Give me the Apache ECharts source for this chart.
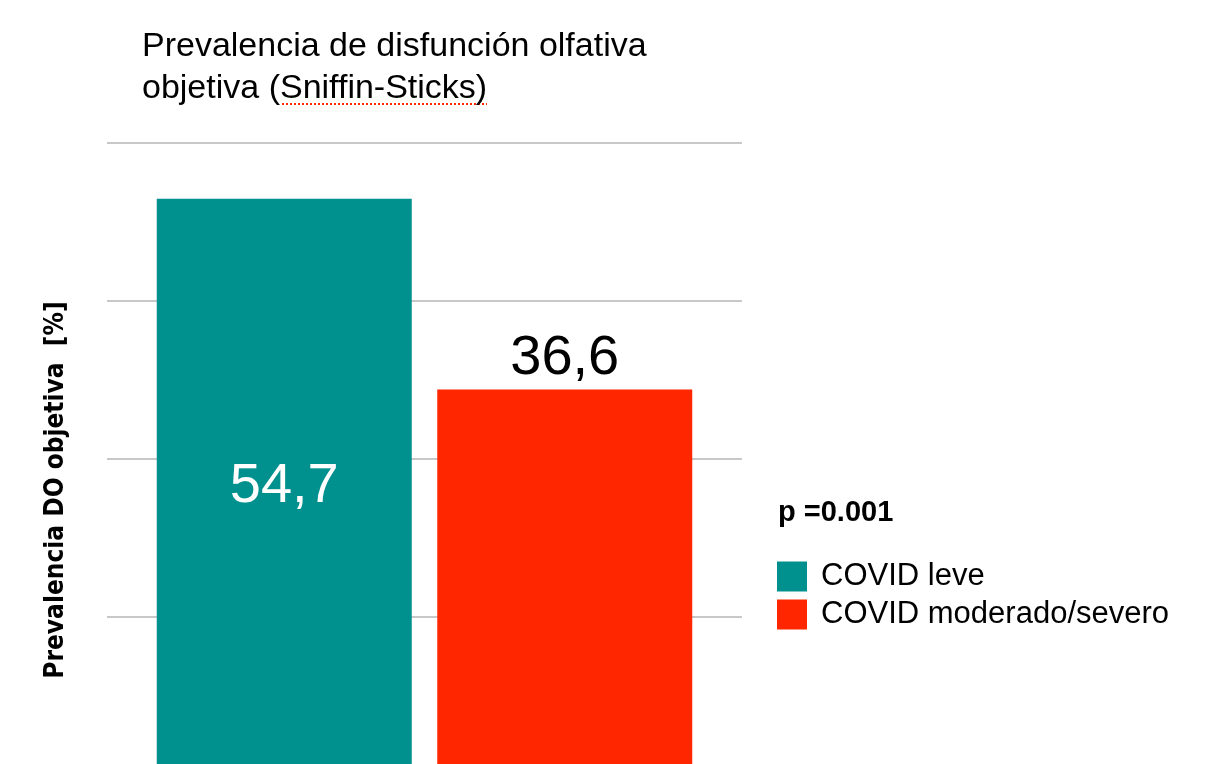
<!DOCTYPE html>
<html>
<head>
<meta charset="utf-8">
<script src="https://cdn.jsdelivr.net/npm/echarts@6/dist/echarts.min.js"></script>
<style>
  html, body { margin: 0; padding: 0; background: #fff; }
  #chart { width: 1214px; height: 764px; }
</style>
</head>
<body>
<div id="chart"></div>
<script>
// data
const categories = ['Sniffin-Sticks'];
const seriesNames = ['COVID leve', 'COVID moderado/severo'];
const seriesValues = [[54.7], [36.6]];
const colors = ['#00918f', '#ff2600'];
const pValue = 'p =0.001';
const yName = 'Prevalencia DO objetiva  [%]';

const chart = echarts.init(document.getElementById('chart'));

const fmt = function (p) { return String(p.value).replace('.', ','); };

const series = seriesNames.map(function (name, i) {
    return {
        name: name,
        type: 'bar',
        data: seriesValues[i],
        barWidth: 255,
        barGap: '10%',
        itemStyle: { color: colors[i] },
        label: {
            show: true,
            position: i === 0 ? 'inside' : 'top',
            formatter: fmt,
            color: i === 0 ? '#fff' : '#000',
            fontSize: 56,
            fontFamily: 'Liberation Sans',
            distance: 3
        }
    };
});

chart.setOption({
    animation: false,
    backgroundColor: '#fff',
    title: [{
        text: 'Prevalencia de disfunción olfativa\nobjetiva (Sniffin-Sticks)',
        left: 137,
        top: 21,
        textStyle: { fontSize: 34, fontWeight: 'normal', color: '#000', fontFamily: 'Liberation Sans', lineHeight: 42 }
    }, {
        text: pValue,
        left: 773,
        top: 493,
        textStyle: { fontSize: 29, fontWeight: 'bold', color: '#000', fontFamily: 'Liberation Sans' }
    }],
    legend: {
        orient: 'vertical',
        left: 772,
        top: 556,
        itemWidth: 30,
        itemHeight: 30,
        itemGap: 7,
        icon: 'rect',
        textStyle: { fontSize: 31, color: '#000', fontFamily: 'Liberation Sans', padding: [0, 0, 0, 9] }
    },
    // zero line sits just below the visible area
    grid: { left: 107, right: 472, top: 143, height: 632, outerBoundsMode: 'none', containLabel: false },
    xAxis: {
        type: 'category',
        data: categories,
        axisLine: { show: false },
        axisTick: { show: false },
        axisLabel: { show: false }
    },
    yAxis: {
        type: 'value',
        min: 0,
        max: 60,
        interval: 15,
        axisLabel: { show: false },
        axisLine: { show: false },
        axisTick: { show: false },
        splitLine: { lineStyle: { color: '#c8c8c8', width: 2 } }
    },
    graphic: [{
        type: 'text',
        x: 56,
        y: 490,
        rotation: Math.PI / 2,
        style: {
            text: yName,
            fontSize: 26,
            fontWeight: 'bold',
            fontFamily: 'DejaVu Sans Condensed',
            fill: '#000',
            align: 'center',
            verticalAlign: 'middle'
        }
    }, {
        // spell-check squiggle under "Sniffin-Sticks"
        type: 'line',
        shape: { x1: 282, y1: 104, x2: 487, y2: 104 },
        style: { stroke: '#ff2600', lineWidth: 2, lineDash: [2, 2] }
    }],
    series: series
});
</script>
</body>
</html>
